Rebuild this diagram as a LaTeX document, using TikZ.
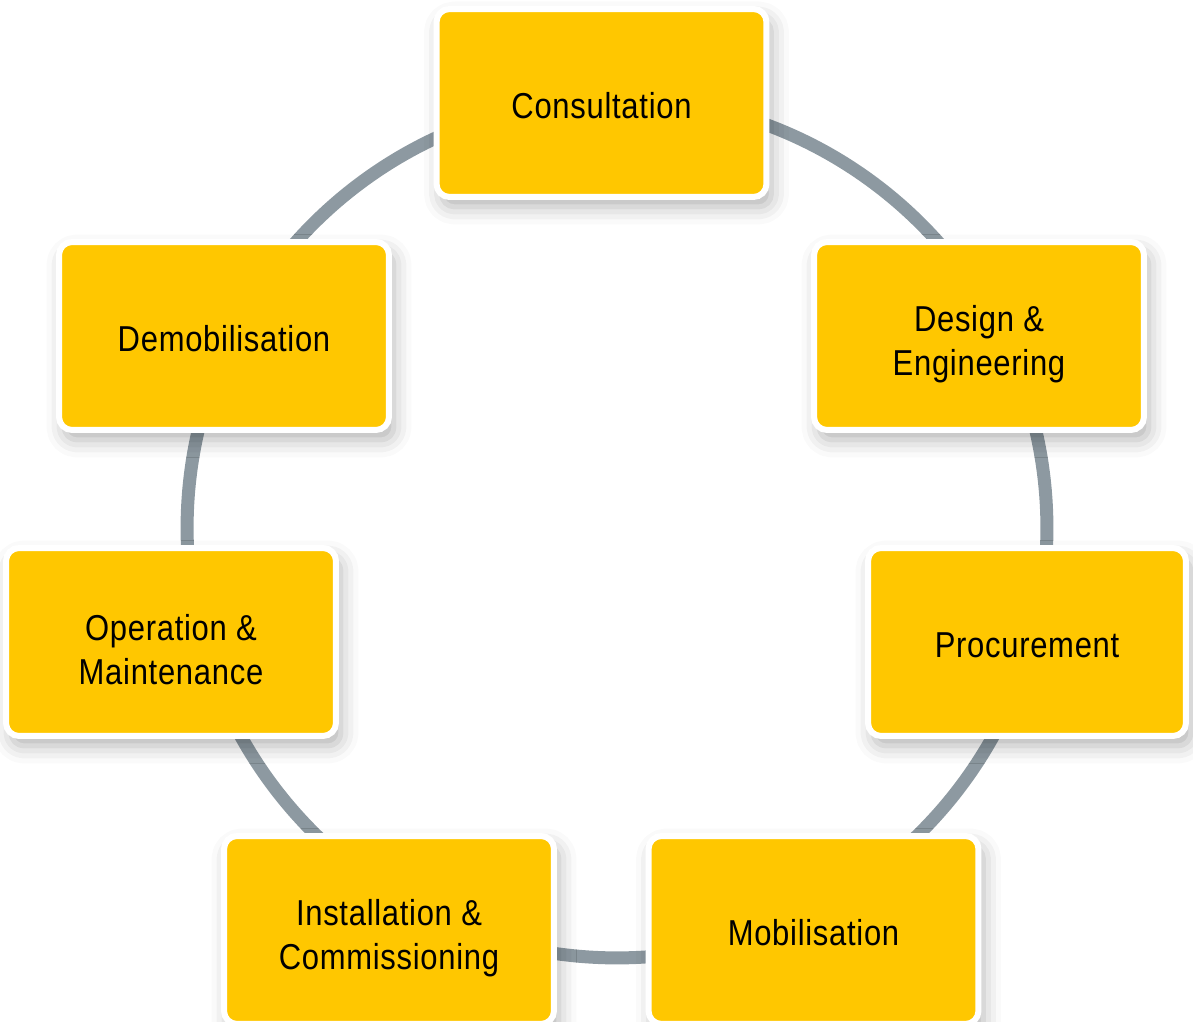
\documentclass[tikz,border=0pt]{standalone}
\usepackage{fontspec}
\setmainfont[FakeStretch=0.86,LetterSpace=2]{Liberation Sans}
\usepackage{tikz}
\usetikzlibrary{shadows.blur}

\definecolor{stageyellow}{HTML}{FFC700}
\definecolor{ringgrey}{HTML}{8D99A1}

\begin{document}
\begin{tikzpicture}[x=0.02cm,y=0.02cm,
		stagebox/.style={draw=white, line width=0.12cm, fill=stageyellow,
			rounded corners=0.26cm, minimum width=6.6cm, minimum height=3.76cm,
			blur shadow={shadow xshift=0.1cm, shadow yshift=-0.2cm,
				shadow blur radius=0.35cm, shadow opacity=30}},
		stagetext/.style={align=center, text=black, inner sep=0pt,
			font=\fontsize{20.5pt}{25pt}\selectfont}]
		\useasboundingbox (0,0) rectangle (1193,1021);
		%
		% ring
		\draw[ringgrey, line width=0.26cm] (617,493) circle [radius=8.6cm];
		%
		% boxes
		\node[stagebox] (consult) at (601.5,918) {};
		\node[stagebox] (design) at (979,685) {};
		\node[stagebox, minimum width=6.36cm] (procure) at (1027,379) {};
		\node[stagebox] (mobil) at (813.5,91) {};
		\node[stagebox] (install) at (389,91) {};
		\node[stagebox] (operate) at (171,379) {};
		\node[stagebox] (demob) at (224,685) {};
		%
		% labels
		\foreach \n/\dy/\t in {consult/-3/Consultation,
			design/-8/{Design \&\\Engineering},
			procure/-3/Procurement,
			mobil/-3/Mobilisation,
			install/-8/{Installation \&\\Commissioning},
			operate/-8/{Operation \&\\Maintenance},
			demob/-3/Demobilisation}
			\node[stagetext] (\n-text) at ([yshift=\dy*0.02cm]\n) {\t};
	\end{tikzpicture}
\end{document}
